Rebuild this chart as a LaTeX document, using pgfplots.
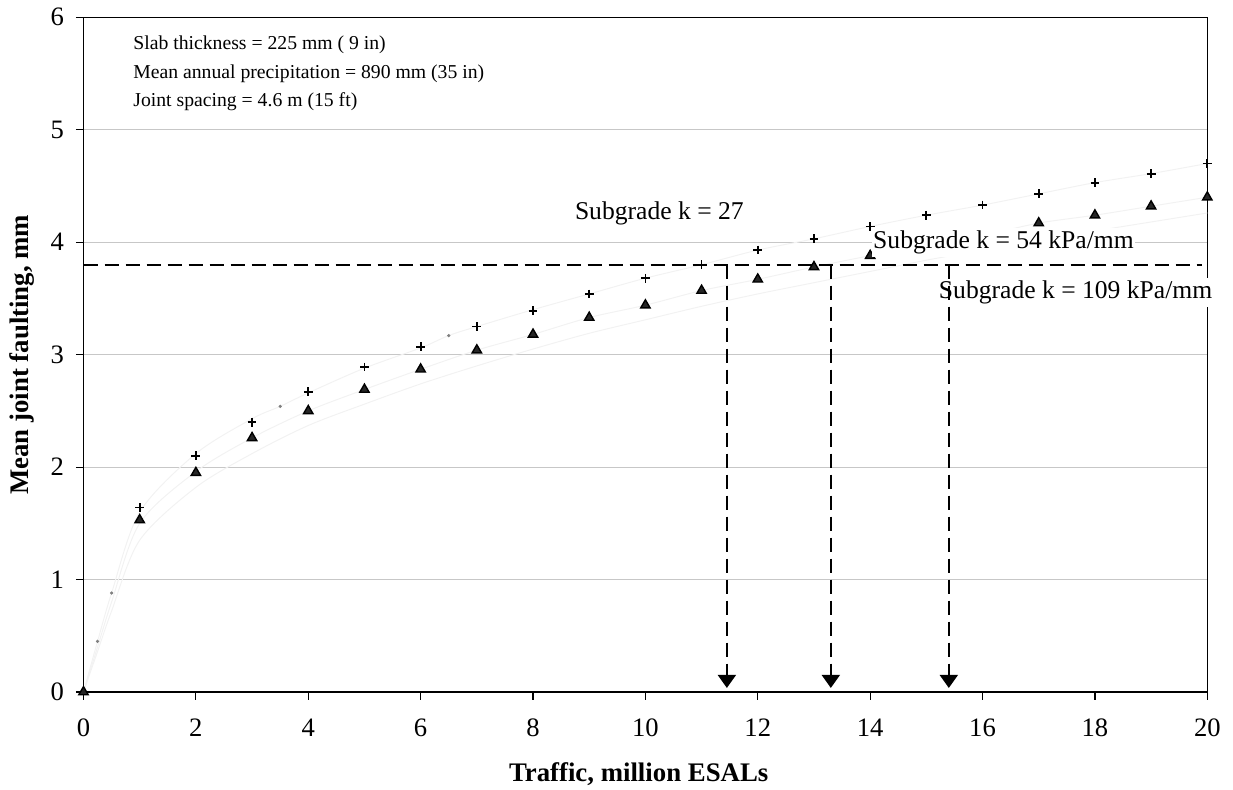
\documentclass[border=0pt]{standalone}
\usepackage{pgfplots}
\pgfplotsset{compat=1.18}
\usepackage{fontspec}
\setmainfont{Liberation Serif}
\usetikzlibrary{arrows.meta}
\begin{document}
\begin{tikzpicture}
\path[use as bounding box] (0,0) rectangle (616.5pt,394.5pt);
\begin{axis}[
  at={(41.75pt,48.5pt)}, anchor=south west,
  scale only axis, width=561.9pt, height=337.35pt,
  xmin=0, xmax=20, ymin=0, ymax=6,
  xtick={0,2,...,20}, ytick={0,1,...,6},
  xtick pos=bottom, ytick pos=left,
  tick align=outside, major tick length=3.75pt,
  tick style={black, line width=0.6pt},
  axis line style={line width=0.8pt},
  ymajorgrids, grid style={black!22, line width=0.6pt},
  /pgf/number format/assume math mode=true,
  ticklabel style={font=\fontsize{13.3}{16}\selectfont},
  xticklabel style={yshift=-6pt},
  yticklabel style={xshift=-2.5pt},
  xlabel={Traffic, million ESALs},
  ylabel={Mean joint faulting, mm},
  label style={font=\bfseries\fontsize{13.4}{16}\selectfont},
  xlabel style={at={(axis description cs:0.494,-0.132)}, anchor=base},
  ylabel style={at={(axis description cs:-0.0547,0.5)}, anchor=center},
  clip=false,
]
% faint trend lines
\addplot[black!5, line width=0.5pt, smooth, no markers] coordinates {
(0,0)(0.25,0.45)(0.5,0.88)(1,1.60)(2,2.12)(3,2.43)(3.5,2.54)(4,2.66)(5,2.88)(6,3.06)(6.5,3.17)(7,3.25)(8,3.40)(9,3.54)(10,3.68)(11,3.80)(12,3.93)(13,4.03)(14,4.14)(15,4.24)(16,4.33)(17,4.43)(18,4.53)(19,4.61)(20,4.70)};
\addplot[black!5, line width=0.5pt, smooth, no markers] coordinates {
(0,0)(0.25,0.40)(0.5,0.80)(1,1.50)(2,1.96)(3,2.26)(4,2.50)(5,2.69)(6,2.87)(7,3.04)(8,3.18)(9,3.33)(10,3.44)(11,3.57)(12,3.67)(13,3.78)(14,3.88)(15,3.97)(16,4.06)(17,4.17)(18,4.24)(19,4.32)(20,4.40)};
\addplot[black!5, line width=0.5pt, smooth, no markers] coordinates {
(0,0)(0.25,0.36)(0.5,0.72)(1,1.35)(2,1.82)(3,2.12)(4,2.37)(5,2.56)(6,2.74)(7,2.90)(8,3.05)(9,3.19)(10,3.31)(11,3.43)(12,3.54)(13,3.64)(14,3.74)(15,3.84)(16,3.93)(17,4.02)(18,4.10)(19,4.18)(20,4.26)};
\addplot[only marks, mark=*, mark size=0.6pt, black!50] coordinates {
(0.25,0.45)(0.5,0.88)(3.5,2.54)(6.5,3.17)};
% plus series
\addplot[only marks, mark=+, mark size=2.2pt, mark options={line width=0.9pt, black}] coordinates {
(0,0)(1,1.64)(2,2.10)(3,2.40)(4,2.67)(5,2.89)(6,3.07)(7,3.25)(8,3.39)(9,3.54)(10,3.68)(11,3.80)(12,3.93)(13,4.03)(14,4.14)(15,4.24)(16,4.33)(17,4.43)(18,4.53)(19,4.61)(20,4.70)};
% triangle series
\addplot[only marks, mark=triangle*, mark size=2.7pt, mark options={fill=black!85, draw=black, line width=0.7pt}] coordinates {
(0,0)(1,1.53)(2,1.95)(3,2.26)(4,2.50)(5,2.69)(6,2.87)(7,3.04)(8,3.18)(9,3.33)(10,3.44)(11,3.57)(12,3.67)(13,3.78)(14,3.88)(15,3.97)(16,4.06)(17,4.17)(18,4.24)(19,4.32)(20,4.40)};
\coordinate (T1) at (axis cs:0.88,5.715);
\coordinate (T2) at (axis cs:0.88,5.457);
\coordinate (T3) at (axis cs:0.88,5.211);
\coordinate (L27) at (axis cs:8.74,4.20);
\coordinate (L54) at (axis cs:14.03,3.94);
\coordinate (L109) at (axis cs:15.20,3.50);
\coordinate (H0) at (axis cs:0,3.8);
\coordinate (H1) at (axis cs:19.9,3.8);
\coordinate (A1) at (axis cs:11.45,3.8);
\coordinate (A1e) at (axis cs:11.45,0.036);
\coordinate (A2) at (axis cs:13.30,3.8);
\coordinate (A2e) at (axis cs:13.30,0.036);
\coordinate (A3) at (axis cs:15.40,3.8);
\coordinate (A3e) at (axis cs:15.40,0.036);
\end{axis}
% labels
\node[anchor=base west, inner sep=0pt, font=\fontsize{9.85}{12}\selectfont] at (T1) {Slab thickness = 225 mm ( 9 in)};
\node[anchor=base west, inner sep=0pt, font=\fontsize{9.85}{12}\selectfont] at (T2) {Mean annual precipitation = 890 mm (35 in)};
\node[anchor=base west, inner sep=0pt, font=\fontsize{9.85}{12}\selectfont] at (T3) {Joint spacing = 4.6 m (15 ft)};
\node[anchor=base west, inner sep=0pt, font=\fontsize{12.8}{15}\selectfont] at (L27) {Subgrade k = 27};
\node[anchor=base west, fill=white, inner xsep=0.5pt, inner ysep=1.5pt, font=\fontsize{12.8}{15}\selectfont] at (L54) {Subgrade k = 54 kPa/mm};
\node[anchor=base west, fill=white, inner xsep=0.5pt, inner ysep=1.5pt, font=\fontsize{12.8}{15}\selectfont] at (L109) {Subgrade k = 109 kPa/mm};
% dashed guide lines
\draw[dash pattern=on 7pt off 3.5pt, line width=0.9pt] (H0) -- (H1);
\draw[dash pattern=on 7pt off 3.5pt, line width=0.9pt, -{Triangle[width=9pt,length=6.5pt]}] (A1) -- (A1e);
\draw[dash pattern=on 7pt off 3.5pt, line width=0.9pt, -{Triangle[width=9pt,length=6.5pt]}] (A2) -- (A2e);
\draw[dash pattern=on 7pt off 3.5pt, line width=0.9pt, -{Triangle[width=9pt,length=6.5pt]}] (A3) -- (A3e);
\end{tikzpicture}
\end{document}
